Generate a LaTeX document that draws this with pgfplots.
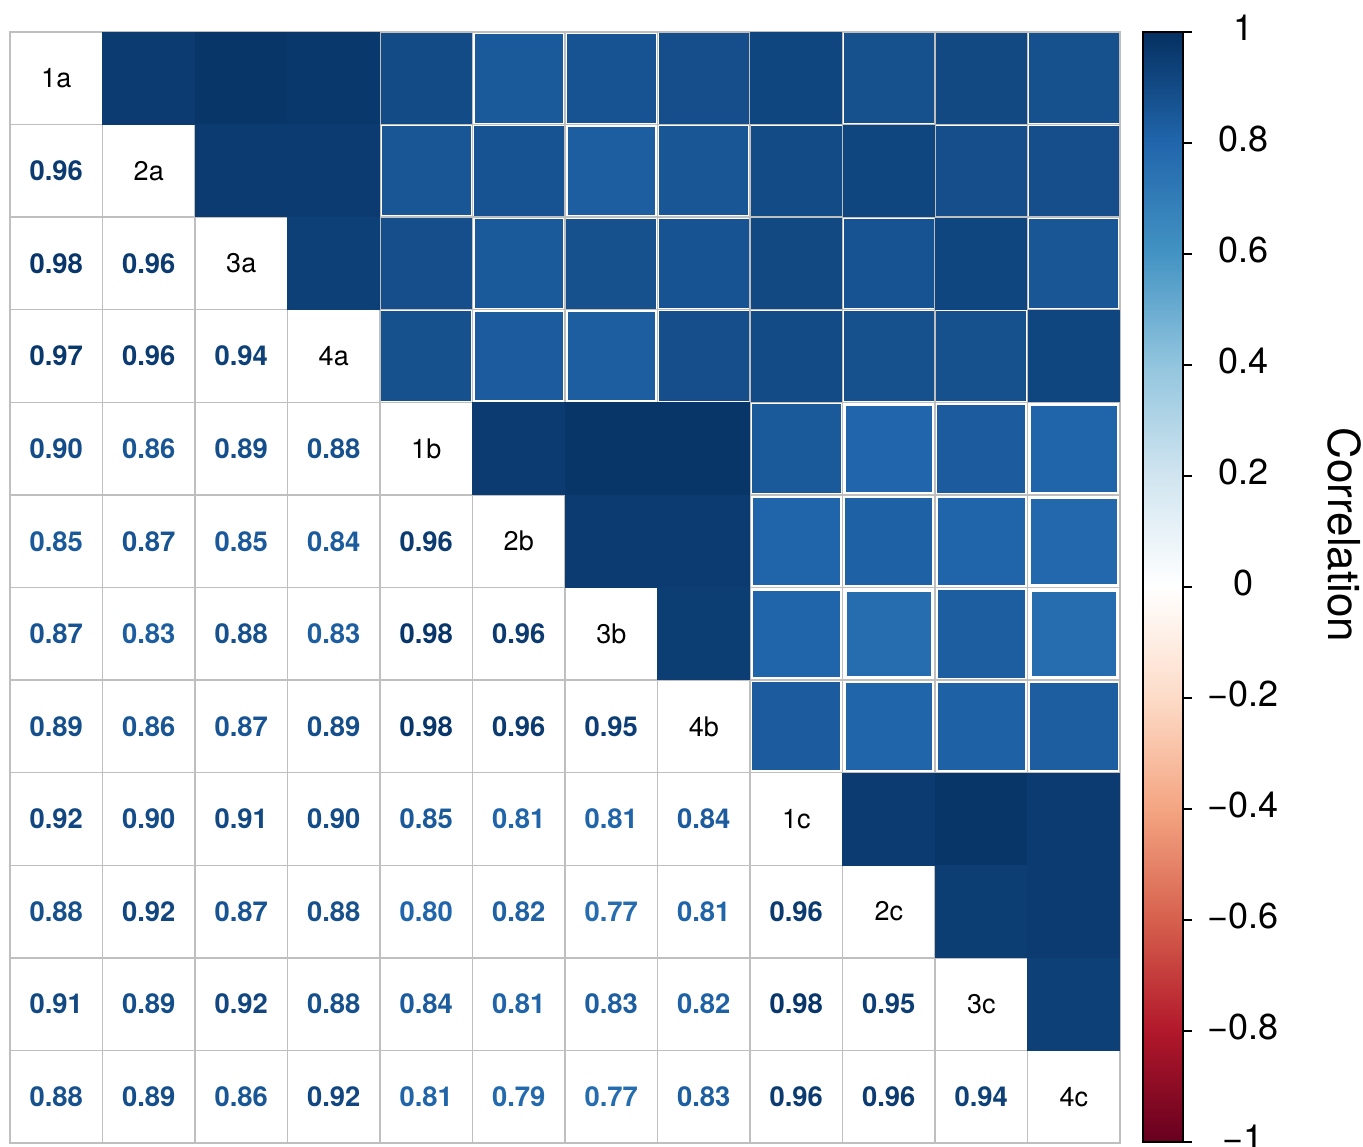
\documentclass[border=0pt]{standalone}
\usepackage{pgfplots}
\pgfplotsset{compat=1.18}
\usepackage{pgfplotstable}
\usepackage{fontspec}
\setmainfont{TeX Gyre Heros}

\pgfplotsset{
  colormap={rdbu}{rgb255=(103,0,31) rgb255=(178,24,43) rgb255=(214,96,77) rgb255=(244,165,130) rgb255=(253,219,199) rgb255=(255,255,255) rgb255=(209,229,240) rgb255=(146,197,222) rgb255=(67,147,195) rgb255=(33,102,172) rgb255=(5,48,97)},
}

\newcommand\corrlabel{%
  \pgfmathfloattofixed{\pgfplotspointmeta}\let\mval\pgfmathresult
  \pgfmathtruncatemacro\cval{(\mval+1)*500}%
  \pgfplotscolormapdefinemappedcolor{\cval}%
  \textcolor{mapped color}{\pgfmathprintnumber[fixed,zerofill,precision=2,assume math mode=true]{\mval}}}

\pgfplotstableread{
x y v
1 2 0.96
1 3 0.98
2 3 0.96
1 4 0.97
2 4 0.96
3 4 0.94
1 5 0.90
2 5 0.86
3 5 0.89
4 5 0.88
1 6 0.85
2 6 0.87
3 6 0.85
4 6 0.84
5 6 0.96
1 7 0.87
2 7 0.83
3 7 0.88
4 7 0.83
5 7 0.98
6 7 0.96
1 8 0.89
2 8 0.86
3 8 0.87
4 8 0.89
5 8 0.98
6 8 0.96
7 8 0.95
1 9 0.92
2 9 0.90
3 9 0.91
4 9 0.90
5 9 0.85
6 9 0.81
7 9 0.81
8 9 0.84
1 10 0.88
2 10 0.92
3 10 0.87
4 10 0.88
5 10 0.80
6 10 0.82
7 10 0.77
8 10 0.81
9 10 0.96
1 11 0.91
2 11 0.89
3 11 0.92
4 11 0.88
5 11 0.84
6 11 0.81
7 11 0.83
8 11 0.82
9 11 0.98
10 11 0.95
1 12 0.88
2 12 0.89
3 12 0.86
4 12 0.92
5 12 0.81
6 12 0.79
7 12 0.77
8 12 0.83
9 12 0.96
10 12 0.96
11 12 0.94
}\lowtri

\pgfplotstableread{
x y lab
1 1 1a
2 2 2a
3 3 3a
4 4 4a
5 5 1b
6 6 2b
7 7 3b
8 8 4b
9 9 1c
10 10 2c
11 11 3c
12 12 4c
}\diagtab

\begin{document}
\begin{tikzpicture}
\path[use as bounding box] (-5pt,-1.5pt) rectangle (676.5pt,571.5pt);
\begin{axis}[
  at={(0pt,0pt)}, anchor=south west,
  scale only axis, width=555pt, height=555.5pt,
  xmin=0.5, xmax=12.5, ymin=0.5, ymax=12.5, y dir=reverse,
  xtick={0.5,1.5,2.5,3.5,4.5,5.5,6.5,7.5,8.5,9.5,10.5,11.5,12.5},
  ytick={0.5,1.5,2.5,3.5,4.5,5.5,6.5,7.5,8.5,9.5,10.5,11.5,12.5},
  xticklabels={}, yticklabels={},
  major tick length=0pt,
  grid=major,
  major grid style={line width=0.7pt, color=black!25},
  axis line style={line width=0.7pt, color=black!25},
  axis on top,
  colormap name=rdbu,
  point meta min=-1, point meta max=1,
]
% upper triangle squares (symmetric values)
\addplot[scatter, only marks, mark=square*, point meta=explicit,
  scatter/use mapped color={draw=mapped color, fill=mapped color},
  visualization depends on={min(23.0,23.125*sqrt(\thisrow{v})+0.55) \as \msz},
  scatter/@pre marker code/.append style={/tikz/mark size=\msz}]
  table[x=y, y=x, meta=v] {\lowtri};
% lower triangle numbers
\addplot[scatter, only marks, mark=*, mark size=0pt, point meta=explicit,
  scatter/use mapped color={draw=white, fill=white},
  nodes near coords={\corrlabel},
  every node near coord/.append style={anchor=center, font=\bfseries\fontsize{13.7}{16}\selectfont}]
  table[x=x, y=y, meta=v] {\lowtri};
% diagonal labels
\addplot[only marks, mark=*, mark size=0pt, mark options={draw=white, fill=white},
  point meta=explicit symbolic,
  nodes near coords,
  every node near coord/.append style={anchor=center, text=black, font=\fontsize{13.5}{16}\selectfont}]
  table[x=x, y=y, meta=lab] {\diagtab};
\end{axis}
% colour key
\begin{axis}[
  at={(566.5pt,0.5pt)}, anchor=south west,
  scale only axis, width=20pt, height=555pt,
  xmin=0, xmax=1, ymin=-1, ymax=1,
  enlargelimits=false,
  xtick=\empty,
  ytick={-1,-0.8,-0.6,-0.4,-0.2,0,0.2,0.4,0.6,0.8,1},
  yticklabels={−1,−0.8,−0.6,−0.4,−0.2,0,0.2,0.4,0.6,0.8,1},
  ytick pos=right, yticklabel pos=right,
  tick align=outside,
  major tick length=4.5pt,
  tick style={black, line width=0.6pt},
  axis line style={black, line width=0.6pt},
  axis on top,
  colormap name=rdbu,
  point meta min=-1, point meta max=1,
  yticklabel style={font=\fontsize{18}{20}\selectfont, anchor=center, xshift=25.5pt, yshift=2pt},
  ylabel={Correlation},
  ylabel style={at={(rel axis cs:5.05,0.547)}, anchor=center, rotate=180, font=\fontsize{22}{24}\selectfont},
]
\addplot[surf, shader=interp, point meta=y] coordinates {
(0,-1) (1,-1)

(0,1) (1,1)
};
\end{axis}
\end{tikzpicture}
\end{document}
